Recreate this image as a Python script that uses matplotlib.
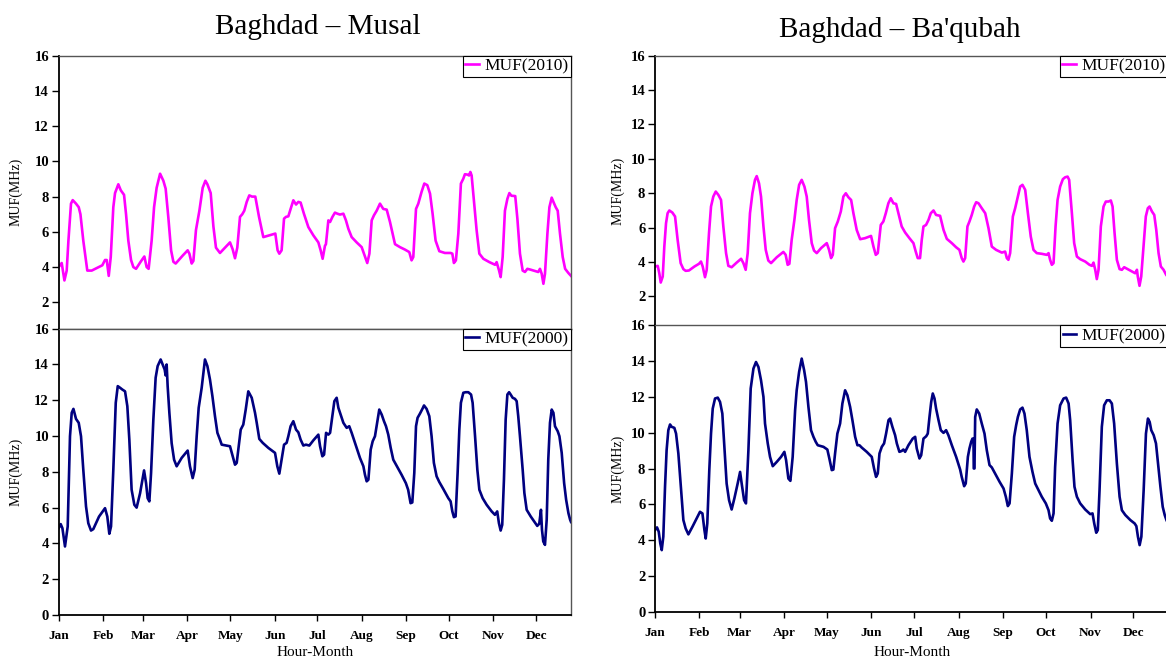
import numpy as np
import matplotlib
matplotlib.use("Agg")
import matplotlib.pyplot as plt

plt.rcParams['font.family'] = ['Liberation Serif', 'DejaVu Serif']

# month start (day of year) and labels
month_days = [0, 31, 59, 90, 120, 151, 181, 212, 243, 273, 304, 334]
month_names = ['Jan', 'Feb', 'Mar', 'Apr', 'May', 'Jun', 'Jul', 'Aug', 'Sep', 'Oct', 'Nov', 'Dec']
titles = ['Baghdad \u2013 Musal', "Baghdad \u2013 Ba'qubah"]

# (day, MUF MHz)
musal_2010 = [
    (0, 4.0), (2.1, 4.23), (4.0, 3.24), (5.6, 3.8), (6.8, 5.5), (8.6, 7.6), (9.8, 7.8), (12.1, 7.6),
    (14.0, 7.4), (15.2, 7.0), (17.2, 5.5), (20.0, 3.8), (23.1, 3.8), (30.5, 4.1), (32.4, 4.4), (33.6, 4.4),
    (35.0, 3.5), (36.4, 4.57), (38.2, 7.4), (39.4, 8.2), (41.7, 8.7), (43.4, 8.36), (45.7, 8.1), (47.1, 7.0),
    (48.7, 5.5), (50.6, 4.4), (52.2, 4.0), (54.1, 3.9), (57.3, 4.3), (59.9, 4.6), (61.5, 4.0), (62.9, 3.9),
    (65.0, 5.5), (66.7, 7.4), (68.5, 8.5), (70.9, 9.3), (73.2, 8.9), (74.8, 8.45), (76.7, 6.8), (78.6, 4.95),
    (80.2, 4.3), (81.8, 4.2), (86.7, 4.65), (90.2, 4.95), (91.4, 4.76), (93.0, 4.2), (94.2, 4.35), (96.0, 6.1),
    (98.4, 7.2), (100.7, 8.5), (102.6, 8.9), (104.0, 8.7), (106.3, 8.2), (108.2, 6.3), (110.0, 5.1), (112.8, 4.8),
    (119.8, 5.4), (121.7, 5.0), (123.3, 4.5), (124.9, 5.1), (126.8, 6.85), (128.4, 7.0), (129.8, 7.2), (131.5, 7.7),
    (133.3, 8.07), (135.2, 8.0), (137.5, 8.0), (140.1, 6.85), (143.1, 5.7), (147.3, 5.8), (151.5, 5.9), (153.1, 4.95),
    (154.3, 4.76), (155.9, 4.95), (157.6, 6.75), (159.0, 6.85), (160.6, 6.88), (162.2, 7.3), (164.1, 7.79), (166.0, 7.55),
    (167.6, 7.7), (169.2, 7.66), (171.5, 7.03), (174.6, 6.27), (178.1, 5.8), (181.6, 5.4), (183.2, 4.95), (184.6, 4.47),
    (186.2, 5.2), (186.9, 5.3), (188.6, 6.65), (189.8, 6.56), (191.4, 6.84), (193.2, 7.09), (194.9, 7.03), (196.7, 6.98),
    (199.1, 7.03), (200.9, 6.65), (202.6, 6.17), (204.9, 5.7), (208.4, 5.4), (211.9, 5.13), (213.5, 4.76), (215.8, 4.23),
    (217.3, 4.76), (218.9, 6.65), (220.5, 6.94), (222.4, 7.2), (224.7, 7.6), (227.0, 7.3), (229.4, 7.26), (231.7, 6.56),
    (235.2, 5.3), (238.7, 5.13), (242.2, 4.99), (245.2, 4.85), (246.8, 4.38), (248.0, 4.57), (249.9, 7.3), (251.5, 7.6),
    (253.8, 8.27), (255.7, 8.74), (257.8, 8.65), (259.7, 8.17), (261.5, 7.03), (263.6, 5.5), (266.2, 4.9), (270.1, 4.8),
    (274.1, 4.8), (275.3, 4.76), (276.4, 4.23), (277.8, 4.38), (279.5, 5.9), (281.3, 8.74), (283.0, 9.02), (284.1, 9.27),
    (285.8, 9.25), (287.0, 9.2), (287.9, 9.4), (288.8, 9.2), (290.4, 7.8), (292.3, 6.08), (294.2, 4.76), (297.0, 4.47),
    (301.2, 4.28), (305.2, 4.13), (306.3, 4.28), (308.0, 3.8), (309.1, 3.43), (310.5, 4.57), (312.1, 7.2), (313.8, 7.87),
    (315.2, 8.2), (316.6, 8.05), (319.3, 8.03), (320.8, 6.75), (322.6, 4.76), (324.5, 3.8), (326.1, 3.72), (327.8, 3.9),
    (330.1, 3.85), (335.4, 3.72), (336.6, 3.9), (337.8, 3.62), (339.0, 3.05), (340.1, 3.62), (341.8, 5.9), (343.2, 7.4),
    (344.8, 7.94), (346.0, 7.7), (347.6, 7.4), (349.0, 7.2), (350.6, 5.9), (352.5, 4.57), (354.2, 3.9), (356.5, 3.66),
    (358.3, 3.5),
]

musal_2000 = [
    (0, 4.85), (1.4, 5.08), (2.6, 4.85), (4.4, 3.83), (6.3, 4.95), (7.9, 9.99), (9.1, 11.3), (10.3, 11.52),
    (12.1, 10.96), (14.0, 10.74), (15.6, 9.99), (17.2, 8.12), (19.1, 6.07), (20.7, 5.13), (22.6, 4.72), (24.2, 4.8),
    (28.2, 5.5), (32.4, 5.97), (34.0, 5.5), (35.4, 4.54), (36.6, 4.95), (38.2, 8.12), (39.9, 11.86), (41.3, 12.79),
    (42.9, 12.7), (44.5, 12.6), (46.4, 12.5), (48.0, 11.67), (49.4, 9.8), (51.0, 7.0), (52.9, 6.16), (54.5, 6.0),
    (56.9, 6.8), (59.7, 8.08), (61.1, 7.37), (62.2, 6.53), (63.4, 6.35), (64.6, 7.94), (66.2, 10.92), (67.8, 13.26),
    (69.2, 13.91), (71.3, 14.28), (72.7, 14.0), (74.1, 13.72), (74.8, 13.39), (75.5, 14.0), (76.2, 12.79), (77.4, 11.3),
    (79.0, 9.6), (80.7, 8.68), (82.5, 8.31), (86.0, 8.78), (90.2, 9.19), (91.8, 8.31), (93.7, 7.65), (95.1, 8.12),
    (96.5, 9.99), (97.9, 11.58), (100.0, 12.7), (102.3, 14.28), (104.0, 13.91), (105.8, 13.16), (107.5, 12.23), (109.3, 11.11),
    (111.0, 10.18), (112.8, 9.8), (114.0, 9.52), (119.8, 9.43), (121.4, 8.96), (123.3, 8.4), (124.5, 8.5), (125.9, 9.43),
    (127.3, 10.36), (129.1, 10.64), (130.8, 11.48), (132.6, 12.5), (135.0, 12.14), (137.3, 11.3), (138.5, 10.74), (140.3, 9.84),
    (142.7, 9.62), (146.6, 9.34), (151.3, 9.06), (152.9, 8.31), (154.3, 7.9), (155.9, 8.68), (157.6, 9.52), (159.4, 9.62),
    (160.6, 9.99), (162.2, 10.55), (164.1, 10.83), (166.0, 10.36), (167.6, 10.21), (169.2, 9.8), (171.1, 9.47), (172.9, 9.52),
    (175.3, 9.47), (178.1, 9.76), (181.6, 10.08), (182.8, 9.43), (184.4, 8.87), (185.6, 8.96), (187.0, 10.18), (188.6, 10.08),
    (189.8, 10.18), (191.4, 11.11), (192.8, 11.95), (194.4, 12.14), (195.6, 11.58), (197.2, 11.2), (199.1, 10.74), (201.4, 10.46),
    (203.2, 10.55), (204.9, 10.18), (208.4, 9.34), (210.7, 8.78), (213.1, 8.31), (214.2, 7.84), (215.4, 7.47), (216.6, 7.56),
    (218.2, 9.24), (219.6, 9.71), (221.2, 9.99), (222.9, 10.83), (224.2, 11.48), (225.9, 11.2), (227.5, 10.83), (228.9, 10.55),
    (230.5, 10.08), (232.2, 9.34), (234.0, 8.68), (236.3, 8.35), (239.8, 7.84), (242.8, 7.37), (244.4, 7.0), (246.1, 6.25),
    (247.3, 6.29), (248.7, 7.94), (249.9, 10.55), (251.0, 11.02), (252.7, 11.26), (254.5, 11.54), (255.5, 11.71), (257.3, 11.52),
    (259.2, 11.11), (260.8, 9.99), (262.4, 8.5), (264.3, 7.75), (266.2, 7.43), (269.0, 7.04), (272.5, 6.53), (274.1, 6.35),
    (275.3, 5.79), (276.4, 5.47), (277.6, 5.51), (279.0, 7.94), (280.2, 10.36), (281.3, 11.86), (283.0, 12.42), (284.6, 12.45),
    (286.5, 12.45), (288.4, 12.32), (289.5, 11.86), (291.2, 9.99), (292.8, 8.12), (294.2, 7.0), (296.5, 6.53), (299.3, 6.16),
    (302.8, 5.79), (305.1, 5.6), (306.7, 5.79), (307.9, 5.13), (309.1, 4.72), (310.2, 5.04), (311.4, 7.56), (312.6, 10.92),
    (313.8, 12.32), (315.0, 12.45), (316.1, 12.32), (317.5, 12.14), (319.1, 12.08), (320.3, 11.95), (321.4, 11.11), (322.6, 9.99),
    (324.5, 8.12), (325.7, 6.81), (327.3, 5.88), (330.1, 5.51), (333.1, 5.17), (334.7, 4.98), (336.1, 5.1), (337.3, 5.88),
    (338.0, 4.76), (338.9, 4.11), (340.1, 3.92), (341.3, 5.32), (342.4, 8.68), (343.6, 10.74), (344.8, 11.48), (346.0, 11.3),
    (347.1, 10.55), (349.0, 10.27), (350.2, 9.99), (351.8, 9.06), (353.5, 7.37), (354.9, 6.44), (356.5, 5.69), (357.7, 5.32),
    (358.3, 5.2),
]

baqubah_2010 = [
    (0, 3.74), (1.9, 3.78), (3.0, 3.35), (4.0, 2.81), (5.4, 3.16), (6.5, 4.9), (7.7, 6.26), (8.8, 6.84),
    (10.0, 7.0), (12.1, 6.88), (14.0, 6.65), (15.8, 5.29), (17.9, 3.94), (19.8, 3.59), (21.4, 3.49), (23.7, 3.51),
    (27.5, 3.74), (30.7, 3.9), (32.1, 4.03), (33.3, 3.74), (34.9, 3.12), (36.1, 3.55), (37.7, 5.68), (39.1, 7.23),
    (40.7, 7.81), (42.4, 8.1), (44.2, 7.91), (46.1, 7.61), (47.7, 6.07), (49.6, 4.52), (51.2, 3.78), (53.5, 3.7),
    (57.0, 3.97), (60.1, 4.19), (61.7, 3.94), (63.3, 3.55), (64.7, 4.52), (66.3, 6.84), (68.0, 8.0), (69.8, 8.78),
    (71.0, 9.0), (72.6, 8.58), (74.0, 7.81), (75.7, 6.07), (77.3, 4.71), (79.1, 4.09), (81.0, 3.94), (85.0, 4.28),
    (89.6, 4.59), (91.2, 4.42), (92.6, 3.84), (93.8, 3.9), (95.4, 5.29), (97.3, 6.45), (98.9, 7.61), (100.6, 8.49),
    (102.4, 8.78), (104.3, 8.39), (105.9, 7.81), (107.5, 6.45), (109.4, 5.1), (111.0, 4.67), (112.9, 4.52), (115.9, 4.81),
    (119.9, 5.1), (121.5, 4.71), (122.9, 4.23), (124.1, 4.42), (125.7, 5.97), (127.6, 6.36), (129.7, 6.94), (131.5, 7.81),
    (133.2, 8.0), (135.0, 7.77), (136.9, 7.61), (138.5, 6.84), (140.8, 5.87), (143.2, 5.33), (146.6, 5.39), (150.8, 5.52),
    (152.5, 4.9), (154.1, 4.42), (155.5, 4.52), (157.6, 6.16), (159.4, 6.36), (161.1, 6.84), (162.9, 7.42), (164.6, 7.71),
    (166.4, 7.42), (168.3, 7.38), (169.9, 6.84), (172.2, 6.07), (174.6, 5.72), (177.6, 5.39), (180.4, 5.1), (182.0, 4.61),
    (183.4, 4.23), (185.0, 4.23), (186.2, 5.29), (187.4, 6.07), (189.2, 6.16), (190.9, 6.45), (192.5, 6.84), (194.4, 7.0),
    (196.2, 6.74), (199.0, 6.69), (201.4, 5.87), (203.7, 5.35), (207.2, 5.1), (210.2, 4.86), (212.5, 4.71), (214.1, 4.23),
    (215.3, 4.03), (216.5, 4.23), (218.1, 6.07), (219.5, 6.36), (221.1, 6.74), (222.8, 7.23), (224.2, 7.48), (225.8, 7.42),
    (228.1, 7.13), (230.5, 6.84), (232.8, 5.97), (235.1, 4.9), (238.1, 4.71), (242.1, 4.55), (244.4, 4.61), (245.6, 4.23),
    (246.7, 4.13), (247.9, 4.52), (249.8, 6.65), (251.4, 7.13), (253.3, 7.81), (254.9, 8.39), (256.5, 8.49), (258.4, 8.2),
    (260.3, 6.84), (262.3, 5.48), (264.2, 4.71), (266.5, 4.52), (270.0, 4.48), (273.5, 4.42), (274.7, 4.52), (275.8, 4.13),
    (277.0, 3.84), (278.2, 3.94), (279.6, 6.07), (281.0, 7.61), (282.8, 8.39), (284.7, 8.82), (286.3, 8.93), (288.0, 8.97),
    (289.1, 8.78), (291.0, 6.84), (292.6, 5.1), (294.5, 4.32), (296.8, 4.17), (300.3, 4.03), (303.3, 3.84), (305.0, 3.78),
    (306.1, 3.97), (307.3, 3.55), (308.4, 3.01), (309.6, 3.55), (311.2, 6.07), (313.1, 7.23), (314.7, 7.52), (316.6, 7.52),
    (318.2, 7.58), (319.4, 7.23), (320.8, 5.68), (322.4, 4.13), (324.3, 3.59), (325.9, 3.55), (327.5, 3.7), (329.9, 3.59),
    (332.9, 3.45), (335.2, 3.35), (336.4, 3.55), (337.0, 3.16), (338.2, 2.62), (339.4, 3.16), (341.0, 4.9), (342.6, 6.65),
    (344.0, 7.13), (345.2, 7.23), (346.9, 6.94), (348.5, 6.74), (349.9, 5.87), (351.5, 4.52), (353.1, 3.74), (355.0, 3.55),
    (356.8, 3.26), (358.3, 3.1),
]

baqubah_2000 = [
    (0, 4.56), (1.4, 4.71), (2.6, 4.47), (3.7, 3.81), (4.7, 3.44), (5.8, 4.19), (7.0, 6.98), (8.1, 9.02),
    (9.3, 10.14), (10.5, 10.46), (11.6, 10.33), (13.5, 10.27), (14.7, 9.95), (16.3, 8.84), (18.2, 6.79), (19.8, 5.12),
    (21.4, 4.65), (23.3, 4.32), (26.1, 4.74), (29.1, 5.21), (31.4, 5.58), (33.1, 5.49), (34.5, 4.56), (35.4, 4.09),
    (36.5, 4.93), (37.9, 7.91), (39.1, 9.95), (40.3, 11.35), (41.9, 11.91), (43.8, 11.96), (45.4, 11.72), (47.0, 11.07),
    (48.4, 9.21), (50.0, 7.16), (51.7, 6.23), (53.5, 5.71), (55.4, 6.33), (57.7, 7.16), (59.4, 7.81), (60.5, 7.16),
    (62.2, 6.23), (63.5, 6.05), (65.2, 9.02), (66.8, 12.47), (68.7, 13.58), (70.5, 13.95), (72.2, 13.67), (74.0, 12.93),
    (75.7, 12.0), (76.8, 10.51), (78.7, 9.4), (80.3, 8.65), (82.2, 8.13), (85.0, 8.37), (88.0, 8.65), (90.3, 8.93),
    (91.5, 8.47), (93.1, 7.44), (94.5, 7.31), (96.1, 8.65), (97.8, 11.26), (98.9, 12.37), (100.6, 13.4), (102.4, 14.14),
    (104.1, 13.49), (105.4, 12.84), (107.1, 11.44), (108.9, 10.14), (110.6, 9.77), (112.2, 9.49), (113.6, 9.3), (117.6, 9.21),
    (120.3, 9.06), (121.7, 8.56), (123.4, 7.91), (124.5, 7.94), (125.7, 8.84), (127.3, 9.95), (129.2, 10.51), (130.8, 11.63),
    (132.7, 12.37), (134.3, 12.09), (136.2, 11.44), (137.8, 10.7), (139.7, 9.77), (141.3, 9.3), (142.7, 9.3), (144.3, 9.17),
    (147.8, 8.93), (151.3, 8.65), (152.9, 8.0), (154.3, 7.53), (155.5, 7.72), (156.7, 8.84), (158.3, 9.21), (159.9, 9.4),
    (161.3, 9.95), (163.0, 10.7), (164.1, 10.79), (165.7, 10.33), (167.6, 9.86), (168.8, 9.4), (170.6, 8.93), (172.2, 8.98),
    (173.4, 9.06), (174.6, 8.93), (176.9, 9.3), (179.9, 9.67), (181.6, 9.77), (182.7, 9.12), (184.6, 8.56), (185.8, 8.74),
    (187.4, 9.67), (189.3, 9.8), (190.4, 9.95), (191.6, 10.88), (192.8, 11.72), (193.9, 12.19), (195.1, 11.91), (196.2, 11.35),
    (197.9, 10.7), (199.5, 10.14), (201.4, 9.99), (203.2, 10.14), (204.8, 9.86), (207.2, 9.3), (210.2, 8.65), (213.0, 7.94),
    (214.1, 7.53), (215.8, 7.01), (216.9, 7.16), (218.4, 8.65), (219.5, 9.12), (220.7, 9.49), (221.6, 9.67), (222.3, 9.67),
    (222.5, 8.0), (223.0, 8.0), (223.5, 10.88), (224.6, 11.3), (226.3, 11.07), (228.1, 10.51), (230.0, 9.95), (231.6, 9.02),
    (233.5, 8.19), (235.1, 8.06), (237.4, 7.72), (240.5, 7.26), (243.3, 6.88), (244.9, 6.42), (246.3, 5.9), (247.5, 6.05),
    (249.1, 7.72), (250.7, 9.77), (252.1, 10.42), (253.3, 10.88), (254.9, 11.3), (256.5, 11.4), (257.9, 11.07), (259.5, 10.14),
    (261.4, 8.65), (263.5, 7.81), (265.4, 7.16), (267.7, 6.79), (270.0, 6.42), (272.8, 6.05), (274.7, 5.67), (275.8, 5.21),
    (277.0, 5.08), (278.2, 5.49), (279.3, 8.09), (281.0, 10.51), (282.8, 11.53), (285.2, 11.91), (287.0, 11.96), (288.7, 11.63),
    (289.8, 10.7), (291.5, 8.47), (292.8, 6.98), (294.5, 6.42), (296.8, 6.05), (300.3, 5.71), (303.8, 5.45), (305.4, 5.49),
    (306.6, 4.93), (308.0, 4.41), (309.1, 4.56), (310.3, 6.79), (311.9, 10.33), (313.5, 11.53), (315.4, 11.81), (317.3, 11.81),
    (318.9, 11.63), (320.5, 10.51), (322.4, 8.28), (324.3, 6.42), (325.9, 5.67), (328.3, 5.4), (331.8, 5.12), (334.8, 4.93),
    (336.0, 4.78), (337.1, 4.19), (338.3, 3.72), (339.5, 4.19), (341.1, 6.79), (342.7, 9.95), (344.1, 10.79), (345.3, 10.6),
    (346.4, 10.14), (348.1, 9.86), (349.7, 9.4), (351.1, 8.28), (352.8, 6.98), (354.4, 5.86), (355.8, 5.4), (357.0, 5.12),
    (358.3, 4.9),
]

W, H = 1166, 662
fig = plt.figure(figsize=(W / 100, H / 100), dpi=100)


def px_box(x0, y0, x1, y1):
    return [x0 / W, 1 - y1 / H, (x1 - x0) / W, (y1 - y0) / H]


def style_axes(ax, ylo, yticks, show_x):
    ax.set_xlim(0, 358.3)
    ax.set_ylim(ylo, 16)
    ax.set_yticks(yticks)
    ax.set_yticklabels([str(v) for v in yticks], fontweight='bold', fontsize=10.5)
    ax.set_xticks(month_days)
    if show_x:
        ax.set_xticklabels(month_names, fontweight='bold', fontsize=9.5)
        ax.tick_params(axis='x', length=4, width=1, pad=7, direction='out')
    else:
        ax.tick_params(axis='x', length=0, labelbottom=False)
    ax.tick_params(axis='y', length=5, width=1, pad=2, direction='out')
    for s in ['left', 'bottom']:
        ax.spines[s].set_color('black')
        ax.spines[s].set_linewidth(1.3)
    for s in ['top', 'right']:
        ax.spines[s].set_color('#555555')
        ax.spines[s].set_linewidth(1.0)
    if not show_x:
        ax.spines['bottom'].set_color('#555555')
        ax.spines['bottom'].set_linewidth(1.0)


panels = [
    # top box, bottom box, top-ylo, ylabel x (axes coords), xlabel pad, data
    (px_box(58.7, 55.7, 571, 328.7), px_box(58.7, 328.7, 571, 615), 0.5, -0.07, 3, musal_2010, musal_2000),
    (px_box(655, 55.7, 1168.3, 325.7), px_box(655, 325.3, 1168.3, 611.7), 0.3, -0.06, 5, baqubah_2010, baqubah_2000),
]

for i, (tbox, bbox, ylo, lab_x, xpad, d2010, d2000) in enumerate(panels):
    ax_t = fig.add_axes(tbox)
    ax_b = fig.add_axes(bbox)

    x, y = np.array(d2010).T
    ax_t.plot(x, y, color='#FF00FF', lw=1.9, label='MUF(2010)')
    x, y = np.array(d2000).T
    ax_b.plot(x, y, color='#000080', lw=1.9, label='MUF(2000)')

    style_axes(ax_t, ylo, list(range(2, 17, 2)), False)
    style_axes(ax_b, 0, list(range(0, 17, 2)), True)

    for ax in (ax_t, ax_b):
        ax.set_ylabel('MUF(MHz)', fontsize=10)
        ax.yaxis.set_label_coords(lab_x, 0.5)
        leg = ax.legend(loc='upper right', borderaxespad=0, fontsize=12.5, fancybox=False,
                        framealpha=1, edgecolor='black', handlelength=0.8, handletextpad=0.3,
                        borderpad=0.15)
        leg.get_frame().set_linewidth(0.8)

    ax_b.set_xlabel('Hour-Month', fontsize=11, labelpad=xpad)

fig.text(318 / W, 1 - 27 / H, titles[0], fontsize=21, ha='center', va='center')
fig.text(900 / W, 1 - 30 / H, titles[1], fontsize=21, ha='center', va='center')

fig.savefig('out.png', dpi=100)
